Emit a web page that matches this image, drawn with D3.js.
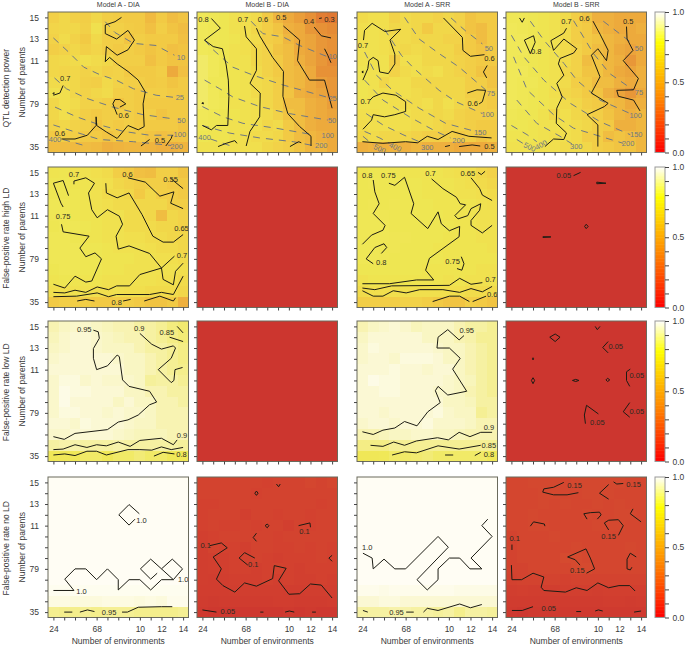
<!DOCTYPE html>
<html lang="en">
<head>
<meta charset="utf-8">
<title>Power and false-positive rate</title>
<script src="https://cdn.jsdelivr.net/npm/d3@7"></script>
<style>
html, body { margin: 0; padding: 0; background: #fff; }
svg { display: block; font-family: "Liberation Sans", Arial, sans-serif; }
</style>
</head>
<body>
<script>
// tick labels sit on grid index, 13 levels per axis
const envTicks = ["24", "", "", "", "68", "", "", "", "10", "", "12", "", "14"];
const parentTicks = ["35", "", "", "", "79", "", "", "", "11", "", "13", "", "15"];
const modelNames = ["Model A - DIA", "Model B - DIA", "Model A - SRR", "Model B - SRR"];
const rowNames = ["QTL detection power", "False-positive rate high LD", "False-positive rate low LD", "False-positive rate no LD"];
const barTicks = [0, 0.1, 0.2, 0.3, 0.4, 0.5, 0.6, 0.7, 0.8, 0.9, 1];

// cell values, top row is 15 parents, bottom row 3 parents
const powerDiaA = [
[.63,.66,.63,.62,.66,.62,.61,.60,.60,.55,.60,.56,.58],
[.65,.66,.66,.63,.71,.63,.63,.61,.60,.57,.62,.58,.56],
[.64,.68,.64,.60,.67,.62,.62,.58,.62,.60,.60,.60,.57],
[.62,.64,.66,.63,.65,.62,.60,.62,.60,.58,.60,.57,.58],
[.66,.67,.68,.70,.68,.66,.62,.62,.62,.57,.60,.58,.58],
[.66,.65,.66,.64,.66,.63,.64,.60,.60,.60,.62,.50,.57],
[.68,.68,.66,.63,.62,.67,.64,.62,.62,.60,.61,.58,.60],
[.72,.70,.66,.64,.66,.68,.62,.62,.60,.62,.62,.60,.60],
[.66,.70,.68,.64,.64,.62,.58,.62,.60,.60,.60,.60,.60],
[.66,.70,.66,.62,.60,.62,.62,.62,.60,.62,.58,.60,.60],
[.64,.66,.64,.63,.58,.62,.60,.62,.60,.60,.60,.60,.58],
[.60,.62,.62,.60,.60,.58,.60,.60,.60,.58,.57,.58,.58],
[.56,.56,.55,.56,.55,.52,.53,.54,.54,.53,.52,.52,.53]];
const powerDiaB = [
[.80,.78,.76,.72,.70,.68,.60,.54,.50,.46,.42,.36,.34],
[.80,.78,.76,.72,.70,.66,.62,.58,.52,.50,.44,.42,.40],
[.80,.77,.76,.74,.70,.68,.62,.60,.54,.50,.48,.44,.42],
[.80,.78,.75,.72,.70,.66,.64,.58,.56,.50,.48,.44,.42],
[.82,.80,.76,.72,.72,.66,.64,.60,.56,.52,.48,.44,.40],
[.82,.80,.76,.74,.72,.68,.64,.60,.56,.54,.50,.42,.42],
[.82,.78,.78,.74,.72,.68,.66,.62,.56,.54,.50,.46,.44],
[.82,.80,.76,.74,.72,.68,.66,.62,.58,.52,.50,.48,.44],
[.82,.80,.78,.72,.72,.70,.66,.62,.56,.56,.52,.50,.46],
[.80,.78,.76,.74,.72,.70,.68,.64,.58,.56,.52,.50,.48],
[.78,.76,.75,.72,.72,.70,.66,.68,.60,.56,.52,.50,.50],
[.76,.74,.74,.72,.70,.68,.68,.66,.60,.56,.54,.52,.50],
[.72,.72,.72,.70,.70,.70,.66,.64,.62,.58,.54,.54,.50]];
const powerSrrA = [
[.68,.70,.70,.64,.68,.66,.66,.64,.66,.64,.58,.60,.60],
[.70,.72,.70,.66,.68,.66,.60,.66,.66,.64,.58,.56,.60],
[.70,.72,.70,.68,.68,.66,.66,.66,.64,.64,.60,.56,.60],
[.72,.72,.70,.68,.66,.68,.66,.66,.66,.62,.60,.58,.60],
[.72,.72,.72,.62,.70,.70,.66,.66,.66,.64,.62,.60,.60],
[.74,.72,.72,.64,.68,.70,.68,.70,.66,.64,.62,.58,.58],
[.74,.72,.66,.70,.70,.66,.66,.66,.66,.66,.62,.62,.58],
[.74,.72,.70,.70,.70,.68,.66,.66,.66,.66,.62,.62,.60],
[.72,.72,.72,.70,.68,.68,.70,.66,.70,.66,.64,.62,.60],
[.70,.70,.72,.72,.70,.68,.68,.66,.68,.64,.62,.62,.62],
[.68,.70,.70,.70,.70,.68,.68,.66,.64,.64,.62,.60,.60],
[.66,.68,.66,.66,.66,.64,.62,.62,.62,.60,.62,.58,.60],
[.52,.53,.52,.53,.52,.54,.52,.52,.52,.50,.50,.50,.52]];
const powerSrrB = [
[.78,.78,.76,.74,.72,.68,.62,.58,.52,.52,.50,.50,.50],
[.80,.78,.76,.74,.72,.68,.62,.60,.54,.52,.50,.50,.52],
[.80,.80,.76,.74,.72,.68,.62,.60,.58,.54,.52,.50,.50],
[.80,.80,.76,.74,.72,.68,.64,.60,.56,.54,.50,.48,.50],
[.80,.78,.76,.74,.72,.68,.64,.56,.58,.54,.52,.44,.50],
[.80,.80,.76,.74,.72,.66,.64,.58,.58,.54,.50,.48,.52],
[.80,.78,.78,.74,.72,.68,.62,.60,.56,.56,.52,.50,.52],
[.80,.78,.76,.74,.70,.66,.64,.60,.58,.52,.48,.44,.50],
[.80,.78,.76,.74,.72,.68,.66,.62,.60,.56,.54,.50,.52],
[.78,.76,.76,.72,.66,.70,.66,.64,.62,.58,.54,.52,.54],
[.76,.76,.74,.72,.72,.70,.68,.66,.62,.60,.52,.52,.54],
[.74,.74,.74,.72,.70,.70,.68,.62,.62,.56,.58,.56,.54],
[.72,.72,.72,.70,.70,.68,.68,.66,.62,.60,.58,.58,.54]];
const highDiaA = [
[.74,.75,.72,.72,.70,.68,.62,.60,.57,.56,.62,.62,.58],
[.76,.76,.74,.74,.72,.70,.66,.64,.62,.62,.62,.60,.60],
[.76,.76,.76,.74,.72,.68,.68,.66,.60,.66,.62,.62,.60],
[.78,.78,.76,.74,.72,.70,.68,.68,.66,.66,.66,.62,.62],
[.77,.78,.76,.74,.74,.72,.72,.68,.68,.66,.56,.66,.64],
[.76,.78,.78,.76,.74,.72,.72,.68,.68,.68,.66,.66,.64],
[.78,.78,.76,.74,.74,.72,.72,.70,.70,.68,.68,.66,.66],
[.78,.78,.78,.76,.76,.74,.72,.72,.72,.70,.68,.68,.66],
[.78,.78,.78,.76,.76,.74,.74,.74,.72,.72,.70,.70,.68],
[.76,.78,.78,.76,.76,.74,.74,.72,.72,.72,.72,.72,.70],
[.74,.76,.74,.74,.74,.72,.72,.72,.72,.72,.70,.70,.68],
[.70,.70,.72,.72,.70,.70,.72,.70,.70,.68,.68,.68,.66],
[.60,.62,.62,.62,.60,.60,.62,.62,.60,.58,.58,.60,.52]];
const highDiaB = [
[.02,.02,.02,.02,.02,.02,.02,.02,.02,.02,.02,.02,.02],
[.02,.02,.02,.02,.02,.02,.02,.02,.02,.02,.02,.02,.02],
[.02,.02,.02,.02,.02,.02,.02,.02,.02,.02,.02,.02,.02],
[.02,.02,.02,.02,.02,.02,.02,.02,.02,.02,.02,.02,.02],
[.02,.02,.02,.02,.02,.02,.02,.02,.02,.02,.02,.02,.02],
[.02,.02,.02,.02,.02,.02,.02,.02,.02,.02,.02,.02,.02],
[.02,.02,.02,.02,.02,.02,.02,.02,.02,.02,.02,.02,.02],
[.02,.02,.02,.02,.02,.02,.02,.02,.02,.02,.02,.02,.02],
[.02,.02,.02,.02,.02,.02,.02,.02,.02,.02,.02,.02,.02],
[.02,.02,.02,.02,.02,.02,.02,.02,.02,.02,.02,.02,.02],
[.02,.02,.02,.02,.02,.02,.02,.02,.02,.02,.02,.02,.02],
[.02,.02,.02,.02,.02,.02,.02,.02,.02,.02,.02,.02,.02],
[.02,.02,.02,.02,.02,.02,.02,.02,.02,.02,.02,.02,.02]];
const highSrrA = [
[.74,.76,.76,.75,.74,.74,.74,.74,.72,.70,.70,.66,.64],
[.76,.77,.76,.76,.76,.76,.74,.74,.74,.72,.70,.68,.66],
[.76,.76,.76,.76,.76,.76,.74,.74,.74,.72,.72,.70,.68],
[.76,.77,.76,.77,.76,.76,.76,.74,.74,.74,.74,.72,.70],
[.78,.78,.77,.76,.76,.76,.76,.76,.74,.74,.74,.72,.72],
[.78,.78,.78,.76,.76,.76,.76,.76,.76,.74,.74,.72,.72],
[.78,.78,.78,.77,.77,.76,.76,.76,.74,.74,.74,.72,.72],
[.78,.78,.76,.77,.76,.76,.76,.74,.74,.74,.74,.74,.72],
[.78,.78,.77,.76,.76,.76,.76,.76,.74,.74,.74,.74,.74],
[.76,.76,.76,.76,.76,.76,.74,.74,.74,.74,.74,.72,.72],
[.72,.74,.74,.74,.74,.74,.74,.74,.72,.74,.72,.72,.72],
[.68,.70,.70,.70,.70,.70,.70,.70,.70,.70,.68,.68,.68],
[.62,.62,.62,.62,.64,.64,.62,.60,.58,.58,.62,.60,.58]];
const highSrrB = [
[.02,.02,.02,.02,.02,.02,.02,.02,.02,.02,.02,.02,.02],
[.02,.02,.02,.02,.02,.02,.02,.02,.02,.02,.02,.02,.02],
[.02,.02,.02,.02,.02,.02,.02,.02,.02,.02,.02,.02,.02],
[.02,.02,.02,.02,.02,.02,.02,.02,.02,.02,.02,.02,.02],
[.02,.02,.02,.02,.02,.02,.02,.02,.02,.02,.02,.02,.02],
[.02,.02,.02,.02,.02,.02,.02,.02,.02,.02,.02,.02,.02],
[.02,.02,.02,.02,.02,.02,.02,.02,.02,.02,.02,.02,.02],
[.02,.02,.02,.02,.02,.02,.02,.02,.02,.02,.02,.02,.02],
[.02,.02,.02,.02,.02,.02,.02,.02,.02,.02,.02,.02,.02],
[.02,.02,.02,.02,.02,.02,.02,.02,.02,.02,.02,.02,.02],
[.02,.02,.02,.02,.02,.02,.02,.02,.02,.02,.02,.02,.02],
[.02,.02,.02,.02,.02,.02,.02,.02,.02,.02,.02,.02,.02],
[.02,.02,.02,.02,.02,.02,.02,.02,.02,.02,.02,.02,.02]];
const lowDiaA = [
[.92,.94,.95,.95,.94,.93,.92,.92,.90,.90,.88,.85,.83],
[.93,.95,.96,.96,.95,.94,.93,.92,.92,.90,.88,.86,.84],
[.94,.95,.96,.96,.95,.94,.94,.94,.92,.90,.90,.88,.86],
[.95,.96,.96,.96,.96,.96,.95,.94,.94,.92,.90,.88,.86],
[.96,.96,.96,.96,.96,.96,.96,.94,.94,.92,.90,.88,.87],
[.95,.97,.97,.95,.96,.95,.95,.95,.94,.89,.90,.90,.88],
[.95,.98,.97,.97,.96,.96,.96,.94,.94,.92,.92,.90,.90],
[.95,.98,.96,.96,.96,.96,.94,.96,.94,.94,.92,.92,.90],
[.95,.97,.97,.96,.96,.95,.96,.95,.95,.94,.92,.92,.92],
[.96,.96,.95,.97,.96,.96,.96,.95,.94,.94,.92,.92,.92],
[.95,.95,.96,.96,.96,.96,.95,.94,.93,.93,.93,.92,.92],
[.90,.91,.91,.90,.90,.90,.91,.90,.90,.90,.90,.90,.89],
[.80,.79,.80,.82,.82,.80,.82,.82,.84,.82,.82,.80,.80]];
const lowDiaB = [
[.02,.02,.02,.02,.02,.02,.02,.02,.02,.02,.02,.02,.02],
[.02,.02,.02,.02,.02,.02,.02,.02,.02,.02,.02,.02,.02],
[.02,.02,.02,.02,.02,.02,.02,.02,.02,.02,.02,.02,.02],
[.02,.02,.02,.02,.02,.02,.02,.02,.02,.02,.02,.02,.02],
[.02,.02,.02,.02,.02,.02,.02,.02,.02,.02,.02,.02,.02],
[.02,.02,.02,.02,.02,.02,.02,.02,.02,.02,.02,.02,.02],
[.02,.02,.02,.02,.02,.02,.02,.02,.02,.02,.02,.02,.02],
[.02,.02,.02,.02,.02,.02,.02,.02,.02,.02,.02,.02,.02],
[.02,.02,.02,.02,.02,.02,.02,.02,.02,.02,.02,.02,.02],
[.02,.02,.02,.02,.02,.02,.02,.02,.02,.02,.02,.02,.02],
[.02,.02,.02,.02,.02,.02,.02,.02,.02,.02,.02,.02,.02],
[.02,.02,.02,.02,.02,.02,.02,.02,.02,.02,.02,.02,.02],
[.02,.02,.02,.02,.02,.02,.02,.02,.02,.02,.02,.02,.02]];
const lowSrrA = [
[.92,.94,.95,.96,.95,.93,.94,.94,.94,.92,.90,.90,.88],
[.94,.96,.96,.96,.96,.96,.94,.94,.94,.92,.91,.88,.88],
[.95,.97,.96,.96,.96,.96,.96,.95,.94,.94,.92,.90,.88],
[.95,.96,.96,.95,.97,.97,.97,.96,.94,.94,.92,.90,.88],
[.96,.96,.96,.97,.96,.96,.95,.96,.96,.94,.92,.90,.88],
[.96,.98,.97,.97,.96,.96,.96,.96,.95,.94,.93,.90,.88],
[.96,.96,.97,.97,.96,.96,.96,.95,.95,.94,.92,.90,.88],
[.96,.96,.96,.96,.96,.96,.96,.96,.94,.94,.93,.90,.90],
[.96,.96,.95,.96,.96,.96,.96,.97,.95,.94,.94,.88,.90],
[.95,.96,.96,.95,.96,.96,.97,.95,.95,.95,.94,.92,.92],
[.92,.92,.93,.94,.94,.95,.95,.94,.94,.93,.92,.92,.92],
[.86,.86,.86,.88,.88,.88,.88,.88,.88,.88,.88,.88,.88],
[.79,.79,.80,.82,.82,.83,.84,.82,.82,.82,.82,.82,.80]];
const lowSrrB = [
[.02,.02,.02,.02,.02,.02,.02,.02,.02,.02,.02,.02,.02],
[.02,.02,.02,.02,.02,.02,.02,.02,.02,.02,.02,.02,.02],
[.02,.02,.02,.02,.02,.02,.02,.02,.02,.02,.02,.02,.02],
[.02,.02,.02,.02,.02,.02,.02,.02,.02,.02,.02,.02,.02],
[.02,.02,.02,.02,.02,.02,.02,.02,.02,.02,.02,.02,.02],
[.02,.02,.02,.02,.02,.02,.02,.02,.02,.02,.02,.02,.02],
[.02,.02,.02,.02,.02,.02,.02,.02,.02,.02,.02,.02,.02],
[.02,.02,.02,.02,.02,.02,.02,.02,.02,.02,.02,.02,.02],
[.02,.02,.02,.02,.02,.02,.02,.02,.02,.02,.02,.02,.02],
[.02,.02,.02,.02,.02,.02,.02,.02,.02,.02,.02,.02,.02],
[.02,.02,.02,.02,.02,.02,.02,.02,.02,.02,.02,.02,.02],
[.02,.02,.02,.02,.02,.02,.02,.02,.02,.02,.02,.02,.02],
[.02,.02,.02,.02,.02,.02,.02,.02,.02,.02,.02,.02,.02]];
const noneDiaA = [
[.995,.995,.995,.995,.995,.995,.995,.995,.995,.995,.995,.995,.995],
[.995,.995,.995,.995,.995,.995,.995,.995,.995,.995,.995,.995,.995],
[.995,.995,.995,.995,.995,.995,.995,.995,.995,.995,.995,.995,.995],
[.995,.995,.995,.995,.995,.995,.995,.995,.995,.995,.995,.995,.995],
[.995,.995,.995,.995,.995,.995,.995,.995,.995,.995,.995,.995,.995],
[.995,.995,.995,.995,.995,.995,.995,.995,.995,.995,.995,.995,.995],
[.995,.995,.995,.995,.995,.995,.995,.995,.995,.995,.995,.995,.995],
[.995,.995,.995,.995,.995,.995,.995,.995,.995,.995,.995,.995,.995],
[.995,.995,.995,.995,.995,.995,.995,.995,.995,.995,.995,.995,.995],
[.995,.995,.995,.995,.995,.995,.995,.995,.995,.995,.995,.995,.995],
[.99,.99,.99,.99,.99,.99,.99,.99,.99,.99,.99,.99,.99],
[.975,.975,.97,.97,.97,.975,.975,.975,.97,.975,.97,.985,.985],
[.875,.87,.87,.88,.87,.88,.88,.88,.87,.87,.87,.87,.88]];
const noneDiaB = [
[.12,.12,.12,.12,.12,.12,.11,.12,.12,.12,.13,.12,.13],
[.12,.12,.12,.12,.12,.11,.12,.12,.12,.12,.12,.12,.12],
[.11,.11,.12,.12,.12,.12,.12,.12,.12,.12,.12,.11,.12],
[.11,.12,.12,.12,.10,.12,.12,.11,.12,.12,.11,.12,.12],
[.11,.12,.11,.11,.12,.11,.12,.12,.10,.12,.11,.12,.12],
[.10,.11,.12,.12,.12,.12,.12,.11,.12,.12,.12,.12,.12],
[.09,.12,.11,.11,.10,.12,.12,.11,.11,.12,.11,.12,.11],
[.09,.10,.10,.11,.11,.12,.11,.10,.11,.11,.11,.12,.11],
[.09,.10,.10,.11,.11,.10,.11,.12,.11,.10,.11,.11,.11],
[.09,.08,.09,.10,.10,.10,.11,.10,.11,.10,.10,.11,.10],
[.08,.08,.08,.09,.09,.09,.09,.09,.08,.08,.09,.09,.09],
[.07,.06,.07,.07,.07,.07,.07,.08,.08,.07,.07,.07,.08],
[.05,.04,.04,.04,.04,.04,.04,.04,.05,.04,.05,.04,.04]];
const noneSrrA = [
[.995,.995,.995,.995,.995,.995,.995,.995,.995,.995,.995,.995,.995],
[.995,.995,.995,.995,.995,.995,.995,.995,.995,.995,.995,.995,.995],
[.995,.995,.995,.995,.995,.995,.995,.995,.995,.995,.995,.995,.995],
[.995,.995,.995,.995,.995,.995,.995,.995,.995,.995,.995,.995,.995],
[.995,.995,.995,.995,.995,.995,.995,.995,.995,.995,.995,.995,.995],
[.995,.995,.995,.995,.995,.995,.995,.995,.995,.995,.995,.995,.995],
[.995,.995,.995,.995,.995,.995,.995,.995,.995,.995,.995,.995,.995],
[.995,.995,.995,.995,.995,.995,.995,.995,.995,.995,.995,.995,.995],
[.995,.995,.995,.995,.995,.995,.995,.995,.995,.995,.995,.995,.995],
[.995,.995,.995,.995,.995,.995,.995,.995,.995,.995,.995,.995,.995],
[.985,.985,.98,.985,.985,.985,.985,.985,.985,.98,.98,.98,.98],
[.96,.96,.97,.97,.96,.96,.96,.96,.96,.96,.96,.96,.96],
[.90,.90,.90,.91,.91,.90,.90,.89,.90,.87,.90,.90,.89]];
const noneSrrB = [
[.13,.13,.14,.14,.14,.13,.14,.14,.14,.14,.14,.13,.13],
[.13,.13,.13,.14,.14,.13,.13,.14,.14,.14,.13,.13,.13],
[.13,.13,.13,.14,.13,.14,.13,.13,.14,.13,.14,.13,.13],
[.13,.13,.14,.13,.13,.13,.13,.14,.13,.13,.14,.14,.13],
[.13,.13,.14,.14,.13,.13,.13,.13,.14,.14,.14,.13,.13],
[.12,.13,.13,.13,.14,.13,.13,.13,.13,.13,.13,.13,.13],
[.12,.13,.13,.13,.13,.13,.14,.13,.13,.13,.13,.14,.13],
[.12,.13,.13,.13,.13,.15,.15,.14,.13,.13,.13,.13,.13],
[.12,.12,.13,.13,.13,.13,.15,.15,.13,.13,.13,.13,.13],
[.11,.12,.12,.12,.12,.11,.12,.12,.12,.12,.12,.12,.12],
[.09,.10,.09,.09,.09,.10,.10,.10,.09,.10,.10,.10,.10],
[.07,.07,.07,.07,.07,.07,.07,.07,.07,.08,.08,.07,.08],
[.05,.04,.05,.05,.05,.05,.05,.05,.05,.05,.05,.05,.05]];

// contour lines as [env index, parent index]
const powerDiaALines = [
[[6.3,12],[5.7,11.6],[4.8,11.3],[4.8,10.5],[5.85,10],[6.9,10.8],[7.5,9.9],[6.9,9],[5.9,8.5],[4.9,9.3],[4.8,7.9],[5.2,8.3],[5.9,7.7],[6.9,7],[7.85,6.2],[8.5,5.1],[8.3,4],[8.4,1.9],[7.85,1.6],[6.9,2],[5.9,.8],[4.9,1.4],[4,2],[3.95,2.8],[3.95,2],[3.15,1.1],[2,.75],[.75,.75]],
[[0,4.8],[.6,5],[.9,5.7]],
[[6.15,3.7],[6.7,4],[6.15,4.4],[5.7,4.4],[5.5,4],[5.9,3]],
[[8.1,.1],[8.9,.7]],
[[10.4,.1],[10.9,.8],[11,1.1]],
[[-.05,4.95],[.05,5.05],[.05,4.9],[-.05,4.95]]];
const powerDiaALabels = [["0.7",1.1,6.4],["0.6",6.5,2.9],["0.5",9.85,.6],["0.6",.6,1.3]];
const powerDiaADash = [
[[4.8,11.6],[5.7,10.6],[7.4,9.6],[9.5,9.4],[11.2,8.5]],
[[0,10.1],[1.4,8.8],[2.8,7.4],[4.3,6.7],[5.8,6.2],[7.4,5.4],[9.5,4.8],[11.2,4.6]],
[[.1,6.4],[1.2,5.4],[3.1,4.5],[5.5,3.7],[8.3,3],[11.2,2.6]],
[[.15,3.7],[2.15,2.8],[4.3,2.05],[6.5,1.45],[8.9,1.1],[11.1,1.1]],
[[0,2.05],[1.85,1.45],[4.3,.7],[7.4,.5],[10.9,.15]],
[[.9,.7],[3.2,.05]]];
const powerDiaADashLabels = [["10",11.8,8.3],["25",11.7,4.6],["50",11.85,2.5],["100",11.7,1.15],["200",11.4,.05],["400",.15,.75]];

const powerDiaBLines = [
[[.83,11.9],[1.66,11],[.2,9.9],[1,9.3],[1.85,9.1],[2.2,7.6],[2.4,6.2],[2.45,4.7],[2.35,2],[1.3,2],[.83,1.6],[0,2]],
[[3.9,11.2],[4.05,10.2],[5,9.1],[5,7.1],[4.4,5.9],[5.35,5],[5.3,2.8],[4.4,1.45],[4.05,.1]],
[[5,11],[5.3,10.3],[6.5,8.3],[7.5,7],[7.45,4.7],[7.9,3.1],[9,1.9],[10.05,1],[10.05,.1]],
[[7.5,11.2],[9,9.9],[8.8,8],[9.9,6.2],[11.3,6.2],[12,3.6]],
[[10.35,11.1],[11,10.3],[11.9,10.1]],
[[11.3,9.1],[11.6,8.5],[11.9,7.8]],
[[10.8,11.9],[11.05,11.95]],
[[1.45,.05],[2.2,.35],[3,.6],[3.2,.35]],
[[8.1,.05],[8.9,.5],[9.15,.4]],
[[-.05,4.05],[.05,4.15],[.1,4],[-.05,4.05]]];
const powerDiaBLabels = [["0.8",.1,11.85],["0.7",3.75,11.8],["0.6",5.6,11.85],["0.5",7.3,12],["0.4",9.85,11.65],["0.3",11.75,11.8]];
const powerDiaBDash = [
[[4.5,11.65],[5.6,10.5],[7.45,10.2],[9,9.4],[11.6,8.35]],
[[.2,9.9],[1,9],[2.8,7.4],[4.7,6.65],[7.45,5.75],[11.6,4.6]],
[[.2,6.2],[1.6,5.4],[2.8,4.65],[5.3,3.75],[8.05,3.1],[11.6,2.5]],
[[0,3.75],[1.9,2.8],[3.75,2.2],[6.8,1.75],[10.2,1.15]],
[[0,2],[2.5,1.3],[5.3,.85],[8.4,.5],[10.2,.15]],
[[.75,.75],[2.8,.05]]];
const powerDiaBDashLabels = [["10",12.05,8.35],["25",12.05,4.5],["50",12,2.5],["100",11.6,1.07],["200",11,.15],["400",.2,.9]];

const powerSrrALines = [
[[.1,9.9],[.2,10.8],[.9,11.45],[2.07,10.7],[3.55,10.9],[2.55,9.9],[3,8.6],[3,7.7],[2.4,6.8],[1.6,6.95],[1.45,8],[1,8.3],[.6,8],[.5,7.25],[.05,6.2]],
[[.05,1.65],[.85,2.5],[1,3],[2.05,2.8],[3,3],[4,3.3],[4,4.2],[3.1,4.8],[1.9,5],[1,4.65],[.7,4.35]],
[[7.5,11.95],[9.25,10.15],[9.3,8.95],[10,8.4],[11.3,8.55]],
[[11.55,7.55],[11.2,6.95],[11.5,6.4]],
[[9.7,5],[10.6,5.3],[11.4,5.25],[11.1,4.2],[10.8,4]],
[[0,.5],[1.9,.35],[4,.5],[5.1,.4],[6,1],[7,.7],[8.3,1.45],[9.85,1],[11.95,.85]],
[[7.65,.05],[8.1,.15]],
[[8.95,.05],[10.15,.2],[10.9,.1]],
[[-.05,6.95],[.05,7.05],[.05,6.85],[-.05,6.95]]];
const powerSrrALabels = [["0.7",.05,9.4],["0.6",11.75,8.25],["0.7",.3,4.2],["0.6",10.2,4],["0.5",11.75,.05]];
const powerSrrADash = [
[[8.2,11.95],[9.55,10.75],[11.1,9.55]],
[[3.9,12],[5.25,10],[7.1,8.65],[8.95,7.4],[11.4,5.3]],
[[2.05,10.9],[3.6,8.5],[4.8,7.25],[7.1,5.25],[8.65,4.2],[11.1,3.1]],
[[.2,8.8],[1.3,6.65],[2.8,5.25],[5.25,3.6],[7.7,2.2],[10.45,1.45]],
[[.2,6.2],[1.9,4.35],[4.35,2.8],[6.8,1.45],[8.15,.85]],
[[.35,3.1],[1.9,2.05],[3.75,1.15],[5.6,.35]],
[[.2,1.45],[1.6,.85],[2.5,.35]],
[[.05,1],[1,.2]]];
const powerSrrADashLabels = [["50",11.7,9.15],["75",11.9,5],["100",11.6,3],["150",10.9,1.35],["200",8.9,.65],["300",6,0],["400",3.05,0,25],["500",1.6,-.15,25]];

const powerSrrBLines = [
[[.75,11.95],[1,11.55],[1.2,11.95]],
[[2.05,10.3],[1.2,9.9],[1.75,8.65],[2.2,9.7],[2.05,10.3]],
[[5.1,11],[4.85,10.55],[3.65,9.85],[3.9,8.95],[4.85,10],[6.05,9.1],[5.75,8.7],[4.5,8.2],[4.35,7.7],[4.85,6.65],[4.2,5.9],[4.7,4.65],[4.2,3.6],[4.15,2.2],[5.1,1.3],[4.85,.7],[3.9,.75],[3.1,.05]],
[[7.55,11.65],[8.2,10.45],[8.95,8.95],[8.8,8],[8,9.1],[7.4,8.5],[8.2,6.5],[7.4,5],[8.95,4.05],[8.6,3.75],[7,3],[8,2.05],[8,.05]],
[[10.65,11.15],[10.7,10],[11.25,8.95],[10.35,8],[11.75,6.35],[11.3,5.3],[9.75,5.25],[9.9,4.7],[11.3,4.35],[11.9,3.35]]];
const powerSrrBLabels = [["0.8",2.3,8.9],["0.7",5.1,11.65],["0.6",6.75,11.95],["0.5",10.8,11.65]];
const powerSrrBDash = [
[[8.5,11.65],[11.25,9.55]],
[[5.75,11.7],[7.6,8.65],[9.1,6.8],[11.25,5.3]],
[[1.75,11.65],[3,9.9],[4.85,7.75],[6.05,6.2],[8.2,4.35],[11,3.1]],
[[0,10.35],[1.15,8.35],[3,6.2],[5.45,4.05],[8.2,2.35],[11,1.15]],
[[.2,8.35],[1.45,5.3],[3.9,3],[5.75,1.75],[8.2,1],[10.35,.35]],
[[.5,4.35],[2.35,2.2],[4.5,1],[5.6,.3]],
[[0,2],[1.45,1.15],[2.35,.5]],
[[.5,.7],[1.3,.2]]];
const powerSrrBDashLabels = [["50",11.8,9.1],["75",11.8,5.1],["100",11.5,2.9],["150",11.55,1.15],["200",10.8,.3],["300",6,.1],["400",2.75,.2,-30],["500",1.7,0,25]];

const highDiaALines = [
[[0,11],[.9,11.25],[1.4,9.85]],
[[0,11],[.7,9.15],[.9,8.8]],
[[1.9,10.9],[1.9,11.2],[3,11.5],[3.8,11],[3.25,10.1],[3.55,8.55],[4.05,7.8],[5,8.55],[6.1,7.95],[6.4,7.2],[5.8,6.1],[6,4.9],[7,5.2],[8.9,4.5],[10,3.15],[10.15,2.1],[11.1,1.6],[11.3,2.85],[12,3.6]],
[[4.85,11],[4.9,10.1],[5.9,9.65],[7,10.1],[8.2,8.1],[9.2,6.1],[10.15,5.55],[11.1,5.55],[12,6.25]],
[[6.9,11.5],[8.5,11.1],[9.85,9.8],[11.15,10.2],[10.85,9.15],[12,8.65]],
[[10.9,11.4],[12,10.5]],
[[.75,7.2],[.9,6.5],[3.3,6.1],[2.45,5],[3,4.2],[3.85,4.55],[4.45,4],[3.55,1.95],[3,1.85],[2,2.4],[1.05,1.3],[0,1.65]],
[[0,.9],[1.05,.85],[2,1.1],[3,.9],[4.05,1.4],[5.1,1.15],[5.85,1.5],[7.05,1.5],[8,2.55],[10,3.15],[11.2,4.25]],
[[0,.5],[2.15,.55],[4.05,.85],[5.1,.5],[5.85,.7],[8.9,.7],[10,.9],[11.1,.7],[12,2.4]],
[[2.2,.1],[3,.25],[3.8,.1]],
[[6.45,.1],[7.15,.25]],
[[8.4,.1],[9.85,.55],[11.1,.1],[11.3,.4]]];
const highDiaALabels = [["0.7",1.9,11.8],["0.6",6.85,11.85],["0.55",10.85,11.4],["0.75",.9,7.95],["0.65",11.85,6.8],["0.7",11.9,4.35],["0.8",5.85,0]];

const highSrrALines = [
[[1,11.3],[1.15,10.2],[1.55,9.1],[1,8.2],[2.1,7.1],[1.9,6.65],[.85,6.2],[0,5.35]],
[[1,3.55],[.35,4],[1.15,5.05],[2,5.4],[2.25,5.05],[1.75,4.5]],
[[2.45,11],[3,10.8],[3.9,11.55],[4.75,9.1],[4.5,8.2],[6.05,6.8],[7,8.35],[7.3,7.25],[8.05,6.6],[9,7],[8.95,6.05],[6.2,4.05],[5.85,2.95],[6.6,2.05],[5,2.05],[2.5,1.7],[0,1.7]],
[[6.4,11.4],[7.45,10.5],[8.7,9.7],[9.05,9.1],[9.55,9],[8.55,8],[8.85,7.7],[9.75,8],[10.05,8.65],[10.95,9.1],[10.85,8.5],[10.05,7.55],[10.05,7.1],[11.1,6.4],[12,7.1]],
[[10.05,11.5],[10.85,10.5],[11.1,9.9],[12,9.4]],
[[9.15,4.2],[9.4,3.55],[9.2,2.95],[8.75,3.1]],
[[10.7,12],[11,11.8],[11.35,12.1]],
[[0,1.3],[1.15,1.15],[2.7,1.5],[8.05,1.55],[9,2.2],[10.05,1.65],[11.1,1.8]],
[[0,1.05],[1,.55],[1.9,.55],[2.85,1.05],[4.05,.85],[5.3,1.15],[7.45,1.15],[9,.9],[10.05,1.25],[11.1,.95],[12,1.45]],
[[6.5,.05],[8.05,.55],[9,.55],[9.9,.05]],
[[10.2,.05],[11.45,.55]]];
const highSrrALabels = [["0.8",.45,11.7],["0.75",2.4,11.7],["0.7",6.3,11.95],["0.65",9.75,11.95],["0.8",1.75,3.65],["0.75",8.35,3.8],["0.7",11.85,2.1],["0.6",12,.7]];

const highSrrBLines = [
[[5.75,11.7],[6.4,12]],
[[7.9,11.1],[8.75,11],[7.9,10.95],[7.9,11.1]],
[[6.77,7],[6.92,7.2],[7.1,7],[6.92,6.8],[6.77,7]],
[[2.9,6.05],[3.65,6.03],[2.9,5.98]]];
const highSrrBLabels = [["0.05",4.85,11.7]];

const lowDiaALines = [
[[3.7,11.65],[4.15,11.5],[4.25,10.9],[3.7,9.95],[3.7,9.05],[4,8],[5,8.35],[5.9,9.35],[6.1,9.2],[6.4,7.05],[7,6.45],[8.9,6],[9.55,5],[8.9,4.75],[7.85,3.8],[6.9,3.35],[6,3.15],[5,2.45],[2,2.1],[1,1.55],[0,1.8]],
[[8,11.35],[9.1,10.35],[10,9.9],[11.1,10.2],[11.3,10],[10.9,9.05],[9.7,8],[10.9,6.8],[11.15,7],[11.25,8],[11.95,8.2]],
[[10.75,11],[12,10.6]],
[[11.45,12],[12,11.4]],
[[0,.6],[.9,.65],[2,1.05],[3.1,.8],[4,1.05],[4.9,.95],[6,1.3],[7.1,.9],[8,1.45],[10,1.65],[11.1,1.05],[11.45,1.5]],
[[0,.1],[1.05,.2],[2,.05],[3.1,.45],[4,.45],[4.9,.1],[6.9,.6],[8,.6],[9.1,.55],[10,.85],[10.9,.6],[12,.8]],
[[9.3,0],[10.15,.35],[11.2,.2]]];
const lowDiaALabels = [["0.95",2.85,11.75],["0.9",7.95,11.8],["0.85",10.5,11.45],["0.9",11.9,1.95],["0.8",11.85,.2]];

const lowSrrALines = [
[[9.4,11.15],[8.95,10.75],[7.9,11.7],[7,11],[6.9,10],[8.05,10],[9.05,9.05],[8.35,8.05],[9.65,6],[7.9,5.65],[7,6.45],[6.75,6.05],[7.2,4.95],[6.05,4.1],[5.05,2.8],[3.9,3.2],[3,2.6],[1.9,2.4],[1,2],[0,2.25]],
[[.75,1],[1.9,.9],[2.9,1.3],[3.9,1],[5,1.4],[6.95,1.7],[7.95,1.5],[8.95,2.2],[9.95,1.8],[10.95,2.2],[12,2.2]],
[[2.75,.1],[3.9,.4],[5,.3],[7,.95],[8.95,.65],[10.95,1]],
[[7.65,.1],[8.4,.1]],
[[10.4,.05],[10.95,.35]]];
const lowSrrALabels = [["0.95",9.65,11.6],["0.9",11.7,2.65],["0.85",11.7,1],["0.8",11.7,.15]];

const lowSrrBLines = [
[[3.55,11],[4.05,11.3],[4.5,11],[4.05,10.6],[3.55,11]],
[[7.75,12],[7.95,11.7],[8.2,12]],
[[8.95,10.6],[8.45,10.05],[8.95,9.55]],
[[1.95,9],[2,9.1],[2.05,9],[2,8.9],[1.95,9]],
[[1.85,7],[2,7.25],[2.15,7],[2,6.7],[1.85,7]],
[[5.65,7],[5.95,7.1],[6.25,7],[5.95,6.9],[5.65,7]],
[[8.75,7.05],[8.9,7.2],[9.1,7.05],[8.9,6.9],[8.75,7.05]],
[[11,8.05],[10.65,7.8],[10.65,7],[10.95,6.45]],
[[10.95,4.95],[10.35,4.1],[10.95,3.6]],
[[8.05,3.9],[6.95,4.7],[6.75,3.8],[6.85,3]]];
const lowSrrBLabels = [["0.05",9.65,10.15],["0.05",11.6,7.45],["0.05",11.6,4.1],["0.05",7.95,3.1]];

const noneDiaALines = [
[[7.55,8.6],[7,8.05],[6.05,9],[7,9.95],[7.95,9.1]],
[[0,2],[1.9,2],[1.05,3.05],[2,4],[3,4],[4,3],[5,4],[6,3],[6,2.05],[7,3],[8,3],[9,2.05],[10,3],[11.1,3]],
[[9.6,3.6],[9,3.05],[8.05,4],[9,4.9],[10,4],[11,4.9],[11.95,4],[11.1,3],[10,4]],
[[1,0],[1.75,0]],
[[2.45,0],[3.15,.2],[3.8,.05]],
[[6.35,0],[6.85,0],[7.85,.45],[10,.5],[11,.5]]];
const noneDiaALabels = [["1.0",8.15,8.45],["1.0",2.6,1.95],["1.0",12,3],["0.95",5.15,0]];

const noneDiaBLines = [
[[6.85,11.85],[7.05,11.6],[7.2,11.85]],
[[4.85,11],[5,11.2],[5.15,11],[5,10.8],[4.85,11]],
[[5.8,8],[6,8.15],[6.15,8],[6,7.8],[5.8,8]],
[[8.9,8],[9.95,8.25],[10,7.85]],
[[5,7.3],[4.7,6.9],[5,6.55]],
[[12,5.25],[11.7,5],[12,4.7]],
[[4.2,4.35],[3.4,5],[3.9,5.5],[4.85,5]],
[[.7,6.15],[1.75,6.4],[2.3,5.95],[1,5.1],[1.75,4],[1.3,3.05],[1.9,2.45],[3,1.85],[3.9,2.7],[5,2.4],[6.5,3.1],[6.65,4.3],[7.75,4.05],[7.05,2.9],[8,1.65],[9,1.7],[10,2.6],[11,2.5],[12,1.3]],
[[0,.2],[1.3,0]],
[[5.35,0],[5.65,0]],
[[7.65,0],[8.05,.1],[8.5,0]],
[[10.15,0],[10.5,0]]];
const noneDiaBLabels = [["0.1",9.45,7.45],["0.1",4.7,4.4],["0.1",.3,6.15],["0.05",2.35,.05]];

const noneSrrALines = [
[[.05,5.45],[.9,5],[1,4],[2,4.9],[3,4],[4,4],[7,7],[7.95,6],[5.05,3],[6,2.05],[7,3],[7,4],[8.05,5],[9,5],[9.95,4],[11.05,4],[10.05,5],[12,7],[11.05,8],[11.6,8.6]],
[[.05,.15],[.5,0]],
[[4.05,0],[4.75,0]],
[[5.65,0],[6,.35],[7,.15],[9,.75],[10,.4],[11.05,.7]]];
const noneSrrALabels = [["1.0",.45,6],["0.95",3.15,0]];

const noneSrrBLines = [
[[4.85,12],[3.9,11.55],[3,11.4],[2.9,11.1],[3.9,10.85],[5.15,10.85],[6.2,11.05]],
[[9,11.8],[8.15,11],[9,10.45]],
[[9.45,12.05],[9.75,11.85],[10.35,11.9]],
[[7,8.6],[6.7,9.1],[7.3,9.2],[8.15,9.25],[8.3,9],[7.95,8.6]],
[[1.75,7.95],[2.05,8.35],[3.05,8.15],[3.1,7.95]],
[[11.25,9.55],[11,9.1],[12,8.35]],
[[9,7.6],[8.6,8.25],[9,8.5],[9.9,8.55],[10.35,8],[9.9,7.1]],
[[.05,6.25],[.05,5.75]],
[[6.35,4.35],[5.9,4.85],[5.2,5.1],[6.9,5.85],[7.3,5],[7.7,4],[6.95,3.6]],
[[11.55,5.1],[11,5.45],[10.7,4.9],[10.7,4],[11,3.9],[11.15,4.15]],
[[0,4.35],[.05,3],[.95,3],[2,3.6],[3,3.25],[2.75,2.3],[3,2],[5,1.85],[6,2.25],[7,2],[8,2.7],[9,2.25],[9.95,2.45],[10.95,2.45],[11.45,1.95]],
[[.05,.15],[1,.15],[2,.5]],
[[6,.05],[6.45,.05]],
[[7.75,.1],[8.05,.2],[8.45,.1]],
[[11.35,0],[12,.1]]];
const noneSrrBLabels = [["0.15",5.85,11.75],["0.15",11.3,11.8],["0.15",9,7],["0.1",.3,6.85],["0.15",6.1,3.85],["0.05",3.45,.3]];

const noLines = [];

const panels = [
  [powerDiaA, powerDiaALines, powerDiaALabels, powerDiaADash, powerDiaADashLabels],
  [powerDiaB, powerDiaBLines, powerDiaBLabels, powerDiaBDash, powerDiaBDashLabels],
  [powerSrrA, powerSrrALines, powerSrrALabels, powerSrrADash, powerSrrADashLabels],
  [powerSrrB, powerSrrBLines, powerSrrBLabels, powerSrrBDash, powerSrrBDashLabels],
  [highDiaA, highDiaALines, highDiaALabels, noLines, noLines],
  [highDiaB, noLines, noLines, noLines, noLines],
  [highSrrA, highSrrALines, highSrrALabels, noLines, noLines],
  [highSrrB, highSrrBLines, highSrrBLabels, noLines, noLines],
  [lowDiaA, lowDiaALines, lowDiaALabels, noLines, noLines],
  [lowDiaB, noLines, noLines, noLines, noLines],
  [lowSrrA, lowSrrALines, lowSrrALabels, noLines, noLines],
  [lowSrrB, lowSrrBLines, lowSrrBLabels, noLines, noLines],
  [noneDiaA, noneDiaALines, noneDiaALabels, noLines, noLines],
  [noneDiaB, noneDiaBLines, noneDiaBLabels, noLines, noLines],
  [noneSrrA, noneSrrALines, noneSrrALabels, noLines, noLines],
  [noneSrrB, noneSrrBLines, noneSrrBLabels, noLines, noLines]
];

let w = 685, h = 646;
let left = [48, 197, 357, 506];
let top_ = [12, 167, 321, 477];
let size = 140.5;
let textCol = "#3a3a3a";

let svg = d3.select("body").append("svg").attr("width", w).attr("height", h);

let x = d3.scaleLinear().domain([-0.5, 12.5]).range([0, size]);
let y = d3.scaleLinear().domain([-0.5, 12.5]).range([size, 0]);

// printed colours, a bit duller than the colour bar
let cellColor = d3.scaleLinear()
  .domain([0, .1, .3, .4, .5, .6, .7, .75, .8, .85, .9, .95, 1])
  .range(["#cb342f", "#d23f2f", "#dd6b30", "#e58b35", "#edaa3c", "#f2ca44", "#f1df4d", "#eee551", "#f0e858", "#f3ec7e", "#f6f1a2", "#faf7cb", "#fffef8"]);
let barColor = d3.scaleLinear()
  .domain([0, .4, .78, 1])
  .range(["#ff0000", "#ff8c00", "#ffff00", "#ffffff"]);

let line = d3.line().x(d => x(d[0])).y(d => y(d[1]));

let labelTransform = d => d[3] ? "rotate(" + d[3] + " " + x(d[1]) + " " + y(d[2]) + ")" : null;

panels.forEach((p, i) => {
  let col = i % 4, row = Math.floor(i / 4);
  let g = svg.append("g").attr("transform", "translate(" + left[col] + "," + top_[row] + ")");

  p[0].forEach((cells, r) => {
    g.selectAll(null).data(cells).enter().append("rect")
      .attr("x", (d, c) => x(c - .5))
      .attr("y", y(12 - r + .5))
      .attr("width", x(1) - x(0) + .5)
      .attr("height", y(0) - y(1) + .5)
      .attr("shape-rendering", "crispEdges")
      .attr("fill", d => cellColor(d));
  });

  g.selectAll(".dash").data(p[3]).enter().append("path")
    .attr("class", "dash")
    .attr("d", line).attr("fill", "none")
    .attr("stroke", "#6e7885").attr("stroke-width", 1)
    .attr("stroke-dasharray", "7,6");
  g.selectAll(".lvl").data(p[1]).enter().append("path")
    .attr("class", "lvl")
    .attr("d", line).attr("fill", "none")
    .attr("stroke", "#1c1c14").attr("stroke-width", 1);

  g.selectAll(".dashlab").data(p[4]).enter().append("text")
    .attr("class", "dashlab")
    .attr("x", d => x(d[1])).attr("y", d => y(d[2])).attr("dy", "0.35em")
    .attr("transform", labelTransform)
    .attr("text-anchor", "middle").attr("font-size", 7.5).attr("fill", "#6e7885")
    .text(d => d[0]);
  g.selectAll(".lab").data(p[2]).enter().append("text")
    .attr("class", "lab")
    .attr("x", d => x(d[1])).attr("y", d => y(d[2])).attr("dy", "0.35em")
    .attr("text-anchor", "middle").attr("font-size", 7.5).attr("fill", "#2b2b22")
    .text(d => d[0]);

  g.append("rect").attr("width", size).attr("height", size)
    .attr("fill", "none").attr("stroke", "#6a6a5c").attr("stroke-width", 1);

  let yAxis = d3.axisLeft(y).tickValues(d3.range(13)).tickSize(3).tickPadding(6)
    .tickFormat(k => col == 0 ? parentTicks[k] : "");
  let xAxis = d3.axisBottom(x).tickValues(d3.range(13)).tickSize(3).tickPadding(5.5)
    .tickFormat(k => row == 3 ? envTicks[k] : "");
  [g.append("g").call(yAxis), g.append("g").attr("transform", "translate(0," + size + ")").call(xAxis)]
    .forEach(a => {
      a.select(".domain").remove();
      a.selectAll("line").attr("stroke", "#444");
      a.selectAll("text").attr("font-size", 8.5).attr("fill", textCol).attr("font-family", "inherit");
    });

  if (row == 0) {
    g.append("text").attr("x", size / 2).attr("y", -5.5).attr("text-anchor", "middle")
      .attr("font-size", 7).attr("fill", textCol).text(modelNames[col]);
  }
  if (row == 3) {
    g.append("text").attr("x", size / 2).attr("y", size + 26.5).attr("text-anchor", "middle")
      .attr("font-size", 8.5).attr("fill", textCol).text("Number of environments");
  }
  if (col == 0) {
    g.append("text").attr("transform", "translate(-23," + size / 2 + ") rotate(-90)")
      .attr("text-anchor", "middle").attr("font-size", 8.5).attr("fill", textCol).text("Number of parents");
    g.append("text").attr("transform", "translate(-39," + (row == 0 ? size / 2 + 6 : size / 2 + 1) + ") rotate(-90)")
      .attr("text-anchor", "middle").attr("font-size", 8.5).attr("fill", textCol).text(rowNames[row]);
  }
});

// colour bars on the right of each row
let barScale = d3.scaleLinear().domain([0, 1]).range([size, 0]);
top_.forEach(t => {
  let b = svg.append("g").attr("transform", "translate(655," + t + ")");
  b.selectAll("rect").data(d3.range(0, 1, .01)).enter().append("rect")
    .attr("x", 0).attr("y", d => barScale(d + .01))
    .attr("width", 10).attr("height", barScale(0) - barScale(.01) + .5)
    .attr("fill", d => barColor(d));
  b.append("rect").attr("width", 10).attr("height", size)
    .attr("fill", "none").attr("stroke", "#999");
  let a = b.append("g").attr("transform", "translate(10,0)")
    .call(d3.axisRight(barScale).tickValues(barTicks).tickSize(4).tickPadding(3.5)
      .tickFormat(k => (k == 0 || k == .5 || k == 1) ? d3.format(".1f")(k) : ""));
  a.select(".domain").remove();
  a.selectAll("line").attr("stroke", "#444");
  a.selectAll("text").attr("font-size", 8.5).attr("fill", textCol).attr("font-family", "inherit");
});
</script>
</body>
</html>
